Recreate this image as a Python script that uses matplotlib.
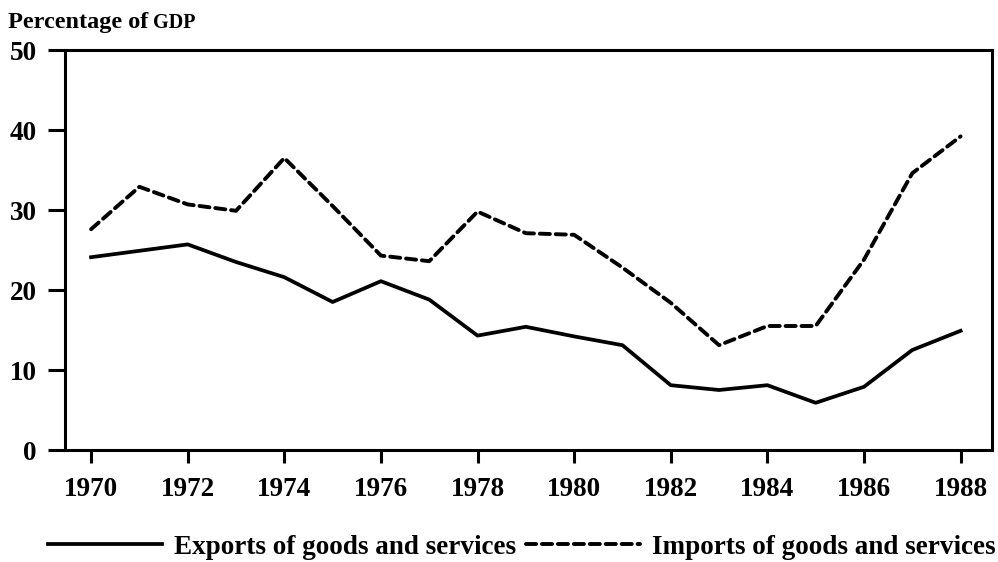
import matplotlib
matplotlib.use("Agg")
import matplotlib.pyplot as plt

# values (percentage of GDP)
years = list(range(1970, 1989))
exports = [24.1, 24.9, 25.7, 23.5, 21.6, 18.5, 21.1, 18.8, 14.3, 15.4, 14.2,
           13.1, 8.1, 7.5, 8.1, 5.9, 7.9, 12.5, 14.9]
imports = [27.6, 32.9, 30.7, 29.9, 36.5, 30.5, 24.3, 23.6, 29.8, 27.1, 26.9,
           22.8, 18.4, 13.1, 15.5, 15.5, 23.8, 34.6, 39.2]
xticks = list(range(1970, 1989, 2))
yticks = [0, 10, 20, 30, 40, 50]

FONT = "Liberation Serif"
plt.rcParams.update({"font.family": FONT, "font.weight": "bold"})

fig = plt.figure(figsize=(9.98, 5.62), dpi=100)
ax = fig.add_axes([65 / 998, 1 - 450 / 562, (992 - 65) / 998, 400 / 562])

ax.plot(years, exports, color="black", lw=2.7, solid_joinstyle="round",
        label="Exports of goods and services")
ax.plot(years, imports, color="black", lw=2.8, dashes=(2.6, 1.5),
        dash_capstyle="round", label="Imports of goods and services")

ax.set_xlim(1969.46, 1988.65)
ax.set_ylim(0, 50)
ax.set_xticks(xticks)
ax.set_yticks(yticks)
for s in ax.spines.values():
    s.set_linewidth(2.2)
ax.tick_params(axis="y", length=12.5, width=2.2, pad=8, labelsize=19.5)
ax.tick_params(axis="x", length=9.5, width=2.2, pad=10, labelsize=19.5)

t1 = fig.text(8 / 998, 1 - 28 / 562, "Percentage of", fontsize=17.5,
              fontweight="bold", ha="left", va="baseline")
ax.annotate(" GDP", xy=(1, 0), xycoords=t1, fontsize=14.5, fontweight="bold",
            ha="left", va="bottom")

fig.legend(loc="center", bbox_to_anchor=(522 / 998, 1 - 547 / 562), ncol=2,
           frameon=False, fontsize=19.5, handlelength=4.2, handletextpad=0.45,
           columnspacing=0.35, borderpad=0, borderaxespad=0)

fig.savefig("out.png", dpi=100)
